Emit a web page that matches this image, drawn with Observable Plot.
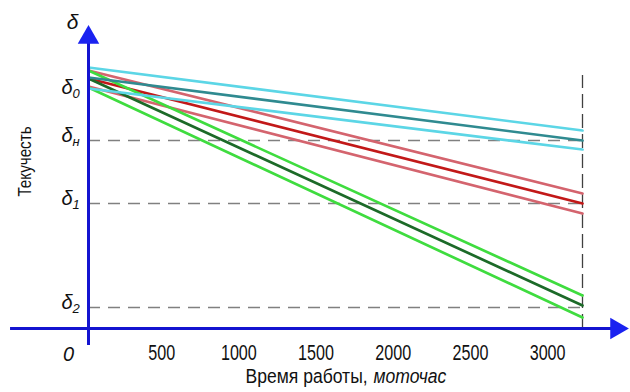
<!DOCTYPE html>
<html>
<head>
<meta charset="utf-8">
<script src="https://cdn.jsdelivr.net/npm/d3@7"></script>
<script src="https://cdn.jsdelivr.net/npm/@observablehq/plot@0.6"></script>
<style>
  html, body { margin: 0; padding: 0; background: #fff; }
  #chart svg { display: block; }
</style>
</head>
<body>
<div id="chart"></div>
<script>
// ---- data ----
const hours = [0, 3200];                 // working time, moto-hours
const cyanUpper  = [261, 198];
const tealMid    = [251, 188];
const cyanLower  = [240, 179];
const redUpper   = [258, 135];
const redMid     = [250, 125];
const redLower   = [242, 115];
const greenUpper = [258, 33];
const greenMid   = [250, 23];
const greenLower = [241, 11];

const xTicks = [500, 1000, 1500, 2000, 2500, 3000];
const levelSubs = ["0", "н", "1", "2"];
const levelValues = [236, 188, 125, 21];   // δ0, δн, δ1, δ2
const dashedLevels = [188, 125, 21];       // δн, δ1, δ2
const axisXExtent = [-505, 3415];
const axisYExtent = [-17, 285];
const arrowTips = [{x: 3420, y: 0, r: 90}, {x: 0, y: 291, r: 0}];

// ---- styles ----
const series = [
  {v: redUpper,   c: "#d4646e"},
  {v: redLower,   c: "#d4646e"},
  {v: redMid,     c: "#c21818"},
  {v: greenUpper, c: "#3fdc3f"},
  {v: greenLower, c: "#3fdc3f"},
  {v: greenMid,   c: "#1c6a28"},
  {v: cyanUpper,  c: "#5cd6e6"},
  {v: cyanLower,  c: "#5cd6e6"},
  {v: tealMid,    c: "#2f8a90"}
];
const blue = "#1414d0";
const font = "'Liberation Sans', Arial, sans-serif";

const lineMarks = series.map(s =>
  Plot.line(hours.map((h, i) => ({h, v: s.v[i]})), {
    x: "h", y: "v", stroke: s.c, strokeWidth: 2.7, strokeLinecap: "round"
  })
);

const chart = Plot.plot({
  width: 630,
  height: 392,
  marginLeft: 88,
  marginRight: 48,
  marginTop: 28,
  marginBottom: 64,
  style: {fontFamily: font, background: "#fff", color: "#111"},
  x: {domain: [0, 3200], axis: null},
  y: {domain: [0, 300], axis: null},
  marks: [
    Plot.axisX({ticks: xTicks, tickSize: 0, tickPadding: 16, dx: -4, fontSize: 21.5, label: null, tickFormat: d => String(d)}),
    Plot.ruleY(dashedLevels, {x1: hours[0], x2: hours[1], stroke: "#808080", strokeWidth: 1.3, strokeDasharray: "12,8"}),
    Plot.ruleX([hours[1]], {y1: 0, y2: 253, stroke: "#404040", strokeWidth: 1.3, strokeDasharray: "14,6"}),
    ...lineMarks,
    Plot.ruleY([0], {x1: axisXExtent[0], x2: axisXExtent[1], stroke: blue, strokeWidth: 3}),
    Plot.ruleX([0], {y1: axisYExtent[0], y2: axisYExtent[1], stroke: blue, strokeWidth: 3}),
    Plot.dot(arrowTips, {x: "x", y: "y", rotate: "r", symbol: "triangle", r: 8, fill: "#1a22f0", stroke: "none"}),
    // level labels δ with subscripts
    Plot.text(levelValues, {y: d => d, frameAnchor: "left", text: () => "δ", dx: -16, dy: 1, textAnchor: "end", lineAnchor: "bottom", fontSize: 20, fontStyle: "italic"}),
    Plot.text(levelValues, {y: d => d, frameAnchor: "left", text: (d, i) => levelSubs[i], dx: -16, dy: 5, textAnchor: "start", lineAnchor: "bottom", fontSize: 13, fontStyle: "italic"}),
    Plot.text(["δ"], {frameAnchor: "top-left", dx: -16, dy: 0, textAnchor: "middle", lineAnchor: "bottom", fontSize: 21, fontStyle: "italic"}),
    Plot.text(["0"], {frameAnchor: "bottom-left", dx: -20, dy: 32, textAnchor: "middle", lineAnchor: "bottom", fontSize: 20, fontStyle: "italic"}),
    Plot.text(["Текучесть"], {frameAnchor: "left", dx: -64, dy: -17, rotate: -90, textAnchor: "middle", lineAnchor: "middle", fontSize: 19}),
    Plot.text(["Время работы, "], {frameAnchor: "bottom", dx: 37, dy: 54, textAnchor: "end", lineAnchor: "bottom", fontSize: 19.5}),
    Plot.text(["моточас"], {frameAnchor: "bottom", dx: 38, dy: 54, textAnchor: "start", lineAnchor: "bottom", fontSize: 19.5, fontStyle: "italic"})
  ]
});

// narrow (condensed) look of the original's font: squeeze glyphs horizontally around their anchor
function squeeze(textEl, s) {
  let t = textEl.getAttribute("transform");
  if (!t) {
    const x = +textEl.getAttribute("x") || 0, y = +textEl.getAttribute("y") || 0;
    textEl.removeAttribute("x"); textEl.removeAttribute("y");
    t = `translate(${x},${y})`;
  }
  textEl.setAttribute("transform", `${t} scale(${s},1)`);
}
chart.querySelectorAll("text").forEach(el => {
  const s = el.textContent;
  if (/^\d{3,4}$/.test(s)) squeeze(el, 0.75);
  else if (s === "Текучесть") squeeze(el, 0.8);
  else if (s.startsWith("Время") || s === "моточас") squeeze(el, 0.9);
});
document.getElementById("chart").appendChild(chart);
</script>
</body>
</html>
